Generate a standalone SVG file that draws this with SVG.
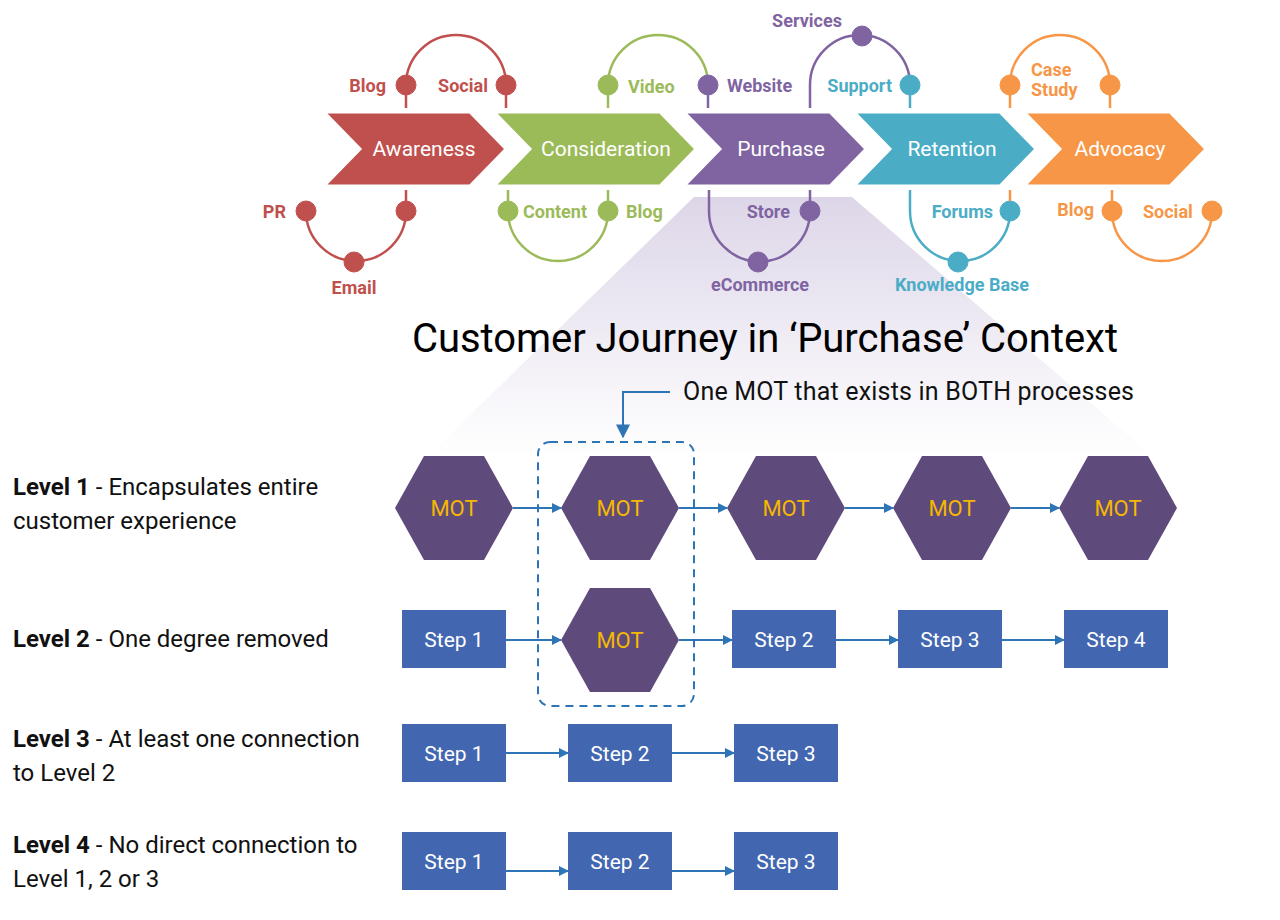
<svg xmlns="http://www.w3.org/2000/svg" width="1280" height="920" viewBox="0 0 1280 920">
<defs>
<linearGradient id="fade" x1="0" y1="0" x2="0" y2="1"><stop offset="0" stop-color="#ddd6e8"/><stop offset="1" stop-color="#ffffff"/></linearGradient>
<marker id="ar" viewBox="0 0 10 10" refX="9" refY="5" markerWidth="10" markerHeight="10" markerUnits="userSpaceOnUse" orient="auto"><path d="M0,0L10,5L0,10z" fill="#2e75b6"/></marker>
<marker id="ar2" viewBox="0 0 10 10" refX="9" refY="5" markerWidth="14" markerHeight="14" markerUnits="userSpaceOnUse" orient="auto"><path d="M0,0L10,5L0,10z" fill="#2e75b6"/></marker>
</defs>
<style>
text{font-family:Roboto,"Liberation Sans",sans-serif}
.chev{stroke:#fff;stroke-width:3}
.cl{font-size:21px;fill:#fff}
.tag{font-size:18px;font-weight:bold}
.arc{fill:none;stroke-width:2.5}
.hex{fill:#5f4a7c}
.mot{font-size:22px;fill:#f5b800;text-anchor:middle}
.box{fill:#4267b0}
.st{font-size:21px;fill:#fff;text-anchor:middle}
.lv{font-size:24px;fill:#111}
.con{stroke:#2e75b6;stroke-width:2;fill:none;marker-end:url(#ar)}
.r{fill:#c0504d;stroke:#c0504d}.g{fill:#9bbb59;stroke:#9bbb59}.p{fill:#8064a2;stroke:#8064a2}.c{fill:#4bacc6;stroke:#4bacc6}.o{fill:#f79646;stroke:#f79646}
</style>
<polygon points="694,197 852,197 1152,456 428,456" fill="url(#fade)"/>
<g id="stage-chevrons">
<g id="awareness"><polygon class="chev" points="324,112 470,112 506,149 470,186 324,186 360,149" fill="#c0504d"/><text class="cl" x="424" y="156" text-anchor="middle">Awareness</text></g>
<g id="consideration"><polygon class="chev" points="494,112 660,112 696,149 660,186 494,186 530,149" fill="#9bbb59"/><text class="cl" x="606" y="156" text-anchor="middle">Consideration</text></g>
<g id="purchase"><polygon class="chev" points="684,112 830,112 866,149 830,186 684,186 720,149" fill="#8064a2"/><text class="cl" x="781" y="156" text-anchor="middle">Purchase</text></g>
<g id="retention"><polygon class="chev" points="854,112 1000,112 1036,149 1000,186 854,186 890,149" fill="#4bacc6"/><text class="cl" x="952" y="156" text-anchor="middle">Retention</text></g>
<g id="advocacy"><polygon class="chev" points="1024,112 1170,112 1206,149 1170,186 1024,186 1060,149" fill="#f79646"/><text class="cl" x="1120" y="156" text-anchor="middle">Advocacy</text></g>
</g>
<g id="touchpoints">
<g class="r"><path class="arc" d="M406,108V85A50,50 0 0 1 506,85V108"/><path class="arc" d="M406,190V211A50,50 0 0 1 306,211"/>
<circle cx="406" cy="85" r="10"/><circle cx="506" cy="85" r="10"/><circle cx="306" cy="211" r="10"/><circle cx="406" cy="211" r="10"/><circle cx="354" cy="262" r="10"/>
<text class="tag" x="386" y="92" text-anchor="end" stroke="none">Blog</text><text class="tag" x="463" y="92" text-anchor="middle" stroke="none">Social</text><text class="tag" x="286" y="218" text-anchor="end" stroke="none">PR</text><text class="tag" x="354" y="294" text-anchor="middle" stroke="none">Email</text></g>
<g class="g"><path class="arc" d="M608,108V85A50,50 0 0 1 708,85"/><path class="arc" d="M508,190V211A50,50 0 0 0 608,211V190"/>
<circle cx="608" cy="85" r="10"/><circle cx="508" cy="211" r="10"/><circle cx="608" cy="211" r="10"/>
<text class="tag" x="628" y="93" stroke="none">Video</text><text class="tag" x="523" y="218" stroke="none">Content</text><text class="tag" x="626" y="218" stroke="none">Blog</text></g>
<g class="p"><path class="arc" d="M708,108V85"/><path class="arc" d="M810,108V85A50,50 0 0 1 910,85"/><path class="arc" d="M709,190V211A50,50 0 0 0 810,211V190"/>
<circle cx="708" cy="85" r="10"/><circle cx="862" cy="36" r="10"/><circle cx="810" cy="211" r="10"/><circle cx="758" cy="262" r="10"/>
<text class="tag" x="727" y="92" stroke="none">Website</text><text class="tag" x="807" y="27" text-anchor="middle" stroke="none">Services</text><text class="tag" x="790" y="218" text-anchor="end" stroke="none">Store</text><text class="tag" x="760" y="291" text-anchor="middle" stroke="none">eCommerce</text></g>
<g class="c"><path class="arc" d="M910,108V85"/><path class="arc" d="M910,190V211A50,50 0 0 0 1010,211"/>
<circle cx="910" cy="85" r="10"/><circle cx="1010" cy="211" r="10"/><circle cx="958" cy="262" r="10"/>
<text class="tag" x="892" y="92" text-anchor="end" stroke="none">Support</text><text class="tag" x="993" y="218" text-anchor="end" stroke="none">Forums</text><text class="tag" x="962" y="291" text-anchor="middle" stroke="none">Knowledge Base</text></g>
<g class="o"><path class="arc" d="M1010,108V85A50,50 0 0 1 1110,85V108"/><path class="arc" d="M1010,190V201"/><path class="arc" d="M1112,190V211A50,50 0 0 0 1212,211"/>
<circle cx="1010" cy="85" r="10"/><circle cx="1110" cy="85" r="10"/><circle cx="1112" cy="211" r="10"/><circle cx="1212" cy="211" r="10"/>
<text class="tag" x="1031" y="76" stroke="none">Case</text><text class="tag" x="1031" y="96" stroke="none">Study</text><text class="tag" x="1094" y="216" text-anchor="end" stroke="none">Blog</text><text class="tag" x="1143" y="218" stroke="none">Social</text></g>
</g>
<text x="765" y="352" font-size="40" text-anchor="middle" fill="#000" textLength="706">Customer Journey in ‘Purchase’ Context</text>
<text x="683" y="400" font-size="25" fill="#111" textLength="451">One MOT that exists in BOTH processes</text>
<rect x="538" y="442" width="156" height="264" rx="12" fill="none" stroke="#2e75b6" stroke-width="2" stroke-dasharray="8,6"/>
<g id="labels">
<text class="lv" x="13" y="495"><tspan font-weight="bold">Level 1</tspan> - Encapsulates entire</text><text class="lv" x="13" y="529">customer experience</text>
<text class="lv" x="13" y="647"><tspan font-weight="bold">Level 2</tspan> - One degree removed</text>
<text class="lv" x="13" y="747"><tspan font-weight="bold">Level 3</tspan> - At least one connection</text><text class="lv" x="13" y="781">to Level 2</text>
<text class="lv" x="13" y="853"><tspan font-weight="bold">Level 4</tspan> - No direct connection to</text><text class="lv" x="13" y="887">Level 1, 2 or 3</text>
</g>
<g id="l1m1"><polygon class="hex" points="395,508 424,456 484,456 513,508 484,560 424,560"/><text class="mot" x="454" y="516">MOT</text></g>
<g id="l1m2"><polygon class="hex" points="561,508 590,456 650,456 679,508 650,560 590,560"/><text class="mot" x="620" y="516">MOT</text></g>
<g id="l1m3"><polygon class="hex" points="727,508 756,456 816,456 845,508 816,560 756,560"/><text class="mot" x="786" y="516">MOT</text></g>
<g id="l1m4"><polygon class="hex" points="893,508 922,456 982,456 1011,508 982,560 922,560"/><text class="mot" x="952" y="516">MOT</text></g>
<g id="l1m5"><polygon class="hex" points="1059,508 1088,456 1148,456 1177,508 1148,560 1088,560"/><text class="mot" x="1118" y="516">MOT</text></g>
<g id="l2s1"><rect class="box" x="402" y="610" width="104" height="58"/><text class="st" x="454" y="647">Step 1</text></g>
<g id="l2m"><polygon class="hex" points="561,640 590,588 650,588 679,640 650,692 590,692"/><text class="mot" x="620" y="648">MOT</text></g>
<g id="l2s2"><rect class="box" x="732" y="610" width="104" height="58"/><text class="st" x="784" y="647">Step 2</text></g>
<g id="l2s3"><rect class="box" x="898" y="610" width="104" height="58"/><text class="st" x="950" y="647">Step 3</text></g>
<g id="l2s4"><rect class="box" x="1064" y="610" width="104" height="58"/><text class="st" x="1116" y="647">Step 4</text></g>
<g id="l3s1"><rect class="box" x="402" y="724" width="104" height="58"/><text class="st" x="454" y="761">Step 1</text></g>
<g id="l3s2"><rect class="box" x="568" y="724" width="104" height="58"/><text class="st" x="620" y="761">Step 2</text></g>
<g id="l3s3"><rect class="box" x="734" y="724" width="104" height="58"/><text class="st" x="786" y="761">Step 3</text></g>
<g id="l4s1"><rect class="box" x="402" y="832" width="104" height="58"/><text class="st" x="454" y="869">Step 1</text></g>
<g id="l4s2"><rect class="box" x="568" y="832" width="104" height="58"/><text class="st" x="620" y="869">Step 2</text></g>
<g id="l4s3"><rect class="box" x="734" y="832" width="104" height="58"/><text class="st" x="786" y="869">Step 3</text></g>
<g id="connectors">
<path class="con" d="M670,392H623V437" style="marker-end:url(#ar2)"/>
<path class="con" d="M513,508H561"/><path class="con" d="M679,508H727"/><path class="con" d="M845,508H893"/><path class="con" d="M1011,508H1059"/>
<path class="con" d="M506,640H561"/><path class="con" d="M679,640H732"/><path class="con" d="M836,640H898"/><path class="con" d="M1002,640H1064"/>
<path class="con" d="M506,753H568"/><path class="con" d="M672,753H734"/>
<path class="con" d="M506,871H568"/><path class="con" d="M672,871H734"/>
</g>
</svg>
